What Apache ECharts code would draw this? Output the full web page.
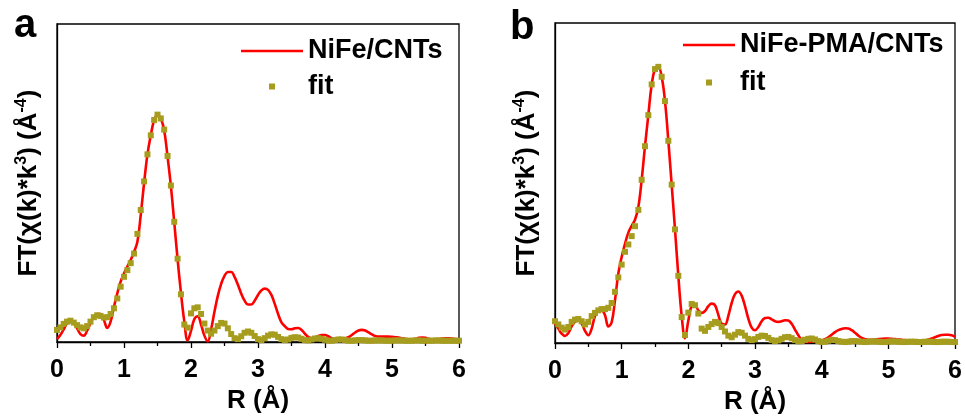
<!DOCTYPE html>
<html>
<head>
<meta charset="utf-8">
<script src="https://cdn.jsdelivr.net/npm/echarts@6/dist/echarts.min.js"></script>
<style>
  html, body { margin: 0; padding: 0; background: #fff; }
  #chart { width: 965px; height: 419px; }
</style>
</head>
<body>
<div id="chart"></div>
<script>
// R grid (Å) shared by all four curves
const R = [
  0.00, 0.05, 0.10, 0.15, 0.20, 0.25, 0.30, 0.35, 0.40, 0.45,
  0.50, 0.55, 0.60, 0.65, 0.70, 0.75, 0.80, 0.85, 0.90, 0.95,
  1.00, 1.05, 1.10, 1.15, 1.20, 1.25, 1.30, 1.35, 1.40, 1.45,
  1.50, 1.55, 1.60, 1.65, 1.70, 1.75, 1.80, 1.85, 1.90, 1.95,
  2.00, 2.05, 2.10, 2.15, 2.20, 2.25, 2.30, 2.35, 2.40, 2.45,
  2.50, 2.55, 2.60, 2.65, 2.70, 2.75, 2.80, 2.85, 2.90, 2.95,
  3.00, 3.05, 3.10, 3.15, 3.20, 3.25, 3.30, 3.35, 3.40, 3.45,
  3.50, 3.55, 3.60, 3.65, 3.70, 3.75, 3.80, 3.85, 3.90, 3.95,
  4.00, 4.05, 4.10, 4.15, 4.20, 4.25, 4.30, 4.35, 4.40, 4.45,
  4.50, 4.55, 4.60, 4.65, 4.70, 4.75, 4.80, 4.85, 4.90, 4.95,
  5.00, 5.05, 5.10, 5.15, 5.20, 5.25, 5.30, 5.35, 5.40, 5.45,
  5.50, 5.55, 5.60, 5.65, 5.70, 5.75, 5.80, 5.85, 5.90, 5.95,
  6.00
];

// Panel a: NiFe/CNTs, |FT| magnitude (arb. units)
const nifeData = [
  0.9, 2.2, 4.0, 5.9, 6.7, 5.9, 4.3, 2.5, 2.0, 3.6,
  5.9, 8.0, 8.8, 8.8, 6.9, 4.4, 6.4, 11.1, 15.3, 19.0,
  21.6, 23.7, 25.8, 28.4, 31.5, 40, 50, 59, 65, 69.8,
  71.4, 70.3, 66.5, 58.3, 49, 37.6, 26, 15.5, 6.5, 0.5,
  3.5, 7.2, 8.1, 5.5, 2.0, 0.2, 4.0, 9.5, 14.5, 18.3,
  20.8, 22.0, 22.0, 20.5, 18.0, 15.2, 13.0, 11.8, 11.8, 13.0,
  14.8, 16.2, 16.8, 16.4, 14.8, 12.0, 8.8, 6.2, 5.0, 4.1,
  4.0, 4.3, 4.4, 3.8, 2.6, 1.6, 1.2, 1.4, 1.9, 2.2,
  2.2, 1.8, 1.2, 0.8, 0.8, 1.0, 1.2, 1.5, 2.2, 3.0,
  3.6, 3.8, 3.6, 3.0, 2.4, 1.9, 1.7, 1.7, 1.7, 1.7,
  1.6, 1.5, 1.4, 1.2, 1.0, 0.8, 0.8, 1.0, 1.3, 1.4,
  1.3, 1.0, 0.8, 0.8, 0.9, 1.1, 1.2, 1.2, 1.1, 0.9,
  0.8
];
const nifeFit = [
  3.8, 4.6, 5.7, 6.4, 6.7, 6.1, 5.3, 4.6, 4.3, 5.0,
  6.4, 7.8, 8.4, 8.2, 7.7, 7.8, 8.8, 10.6, 13.7, 17.4,
  20.5, 22.6, 24.8, 27.8, 34, 41.5, 50.5, 59, 65, 69.8,
  71.5, 70.3, 66.8, 58.5, 49.2, 37.8, 26.2, 15, 5.5, 4.5,
  9.0, 10.6, 10.9, 8.8, 5.8, 3.6, 2.6, 3.6, 5.0, 6.0,
  5.8, 4.3, 2.5, 1.2, 0.9, 1.8, 2.9, 3.3, 2.9, 1.9,
  0.9, 0.6, 1.2, 2.0, 2.4, 2.3, 1.6, 0.9, 0.6, 0.8,
  1.3, 1.5, 1.4, 1.0, 0.6, 0.5, 0.8, 1.1, 1.2, 1.0,
  0.7, 0.4, 0.4, 0.6, 0.8, 0.8, 0.6, 0.4, 0.4, 0.5,
  0.6, 0.6, 0.5, 0.4, 0.4, 0.5, 0.5, 0.5, 0.4, 0.4,
  0.4, 0.5, 0.5, 0.5, 0.4, 0.4, 0.4, 0.5, 0.5, 0.4,
  0.4, 0.4, 0.4, 0.5, 0.5, 0.4, 0.4, 0.4, 0.4, 0.4,
  0.4
];

// Panel b: NiFe-PMA/CNTs
const pmaData = [
  6.1, 4.5, 2.9, 2.2, 3.1, 5.2, 6.6, 7.1, 6.1, 3.8,
  2.4, 4.5, 8.4, 10.0, 10.2, 8.7, 5.2, 6.5, 13.4, 21.7,
  26.9, 31, 34.5, 36.6, 38.5, 42.5, 51, 61.5, 71.2, 80.8,
  85.6, 86.3, 83.2, 75.6, 63.2, 49.5, 35.5, 21, 8.5, 1.5,
  7.0, 11.5, 11.8, 10.2, 9.4, 10.0, 11.5, 12.3, 11.8, 8.8,
  6.0, 5.8, 8.5, 12.5, 15.3, 16.1, 14.8, 11.5, 7.6, 4.8,
  4.0, 5.0, 6.8, 7.8, 7.9, 7.4, 6.8, 6.6, 6.8, 7.1,
  7.0, 6.0, 4.2, 2.4, 1.0, 0.3, 0.3, 0.4, 0.6, 0.6,
  0.8, 1.2, 1.8, 2.6, 3.4, 4.0, 4.4, 4.6, 4.5, 4.0,
  3.2, 2.3, 1.6, 1.2, 1.0, 1.0, 1.1, 1.2, 1.3, 1.4,
  1.4, 1.3, 1.2, 1.1, 1.0, 0.9, 0.8, 0.7, 0.6, 0.6,
  0.7, 0.8, 1.1, 1.4, 1.8, 2.2, 2.5, 2.6, 2.6, 2.4,
  1.9
];
const pmaFit = [
  6.8, 5.8, 4.8, 4.2, 5.0, 6.6, 7.3, 7.5, 6.8, 5.8,
  6.6, 8.4, 9.4, 10.2, 10.6, 10.6, 11.0, 12.5, 16.0, 20.5,
  24.5, 28.5, 30.8, 33.4, 36.5, 41.6, 51, 61.5, 71.2, 80.8,
  85.6, 86.3, 83.2, 75.6, 63.2, 49.5, 35.5, 21.0, 8.1, 2.5,
  9.5, 12.2, 11.8, 9.2, 4.5, 3.8, 5.0, 5.9, 6.6, 6.2,
  5.0, 3.6, 2.3, 1.8, 2.6, 3.4, 3.2, 2.3, 1.3, 0.9,
  1.2, 1.9, 2.3, 2.2, 1.6, 0.9, 0.6, 0.8, 1.3, 1.8,
  1.9, 1.5, 0.9, 0.5, 0.6, 1.0, 1.3, 1.4, 1.1, 0.6,
  0.3, 0.4, 0.7, 1.0, 0.9, 0.6, 0.4, 0.3, 0.4, 0.6,
  0.6, 0.5, 0.4, 0.3, 0.4, 0.5, 0.5, 0.4, 0.3, 0.3,
  0.4, 0.5, 0.5, 0.4, 0.3, 0.3, 0.4, 0.4, 0.4, 0.3,
  0.3, 0.4, 0.4, 0.4, 0.3, 0.3, 0.4, 0.4, 0.4, 0.3,
  0.3
];

const xTicks = ['0', '1', '2', '3', '4', '5', '6'];
const panelLabels = ['a', 'b'];
const sampleNames = ['NiFe/CNTs', 'NiFe-PMA/CNTs'];
const fitName = 'fit';

const FONT = 'Liberation Sans, Arial, sans-serif';
const RED = '#FF0000';
const OLIVE = '#A69D1E';

const pairs = (ys) => ys.map((y, i) => [R[i], y]);

function makeXAxis(gi) {
  return {
    type: 'value', gridIndex: gi, min: 0, max: 6, interval: 1,
    axisLine: { show: true, onZero: false, lineStyle: { color: '#000', width: 1.3 } },
    axisTick: { show: true, inside: false, length: 6, lineStyle: { color: '#000', width: 1.3 } },
    minorTick: { show: true, splitNumber: 2, length: 4, lineStyle: { color: '#000', width: 1.3 } },
    splitLine: { show: false },
    axisLabel: {
      color: '#000', fontSize: 25, fontWeight: 'bold', fontFamily: FONT, margin: 16,
      formatter: (v) => xTicks[Math.round(v)]
    },
    name: 'R (Å)', nameLocation: 'middle', nameGap: 46,
    nameTextStyle: { color: '#000', fontSize: 26, fontWeight: 'bold', fontFamily: FONT }
  };
}

function makeYAxis(gi) {
  return {
    type: 'value', gridIndex: gi, min: 0, max: 100,
    axisLine: { show: true, lineStyle: { color: '#000', width: 1.3 } },
    axisTick: { show: false },
    axisLabel: { show: false },
    splitLine: { show: false },
    name: 'FT(χ(k)*k{sup|3}) (Å{sup|-4})',
    nameLocation: 'middle', nameGap: 13, nameRotate: 90,
    nameTextStyle: {
      color: '#000', fontSize: 26, fontWeight: 'bold', fontFamily: FONT, lineHeight: 30,
      rich: {
        sup: { color: '#000', fontSize: 16, fontWeight: 'bold', fontFamily: FONT,
               lineHeight: 17, verticalAlign: 'top' }
      }
    }
  };
}

// legend icons: a plain stroke for the measured curve, a small square for the fit
function makeLegend(gi, left, top, itemWidth, gap) {
  return {
    data: [
      { name: sampleNames[gi], icon: 'path://M0,0L' + itemWidth + ',0L' + itemWidth + ',2.5L0,2.5Z' },
      { name: fitName, icon: 'path://M0,0L6,0L6,6L0,6Z' }
    ],
    orient: 'vertical', left: left, top: top, padding: 0,
    itemWidth: itemWidth, itemHeight: 6, itemGap: gap,
    symbolKeepAspect: true,
    selectedMode: false,
    textStyle: { color: '#000', fontSize: 27, fontWeight: 'bold', fontFamily: FONT, lineHeight: 26 }
  };
}

function lineSeries(gi, name, ys) {
  return {
    type: 'line', name: name, xAxisIndex: gi, yAxisIndex: gi,
    data: pairs(ys), smooth: 0.4, symbol: 'none', showSymbol: false,
    lineStyle: { color: RED, width: 2.6 }, itemStyle: { color: RED }, z: 2
  };
}

function fitSeries(gi, ys) {
  return {
    type: 'scatter', name: fitName, xAxisIndex: gi, yAxisIndex: gi,
    data: pairs(ys), symbol: 'rect', symbolSize: 6,
    itemStyle: { color: OLIVE, opacity: 1 }, z: 3, clip: false
  };
}

const chart = echarts.init(document.getElementById('chart'), null, { renderer: 'canvas' });
chart.setOption({
  animation: false,
  backgroundColor: '#fff',
  title: [
    { text: panelLabels[0], left: 14, top: 6, padding: 0,
      textStyle: { color: '#000', fontSize: 40, fontWeight: 'bold', fontFamily: FONT } },
    { text: panelLabels[1], left: 510, top: 8, padding: 0,
      textStyle: { color: '#000', fontSize: 40, fontWeight: 'bold', fontFamily: FONT } }
  ],
  legend: [
    makeLegend(0, 241, 37.5, 62, 8.5),
    makeLegend(1, 683, 31.5, 52, 10.5)
  ],
  grid: [
    { left: 57, top: 24, width: 402, height: 318, show: true, borderColor: '#000', borderWidth: 1.3,
      containLabel: false, outerBoundsMode: 'none' },
    { left: 555, top: 23, width: 400, height: 320, show: true, borderColor: '#000', borderWidth: 1.3,
      containLabel: false, outerBoundsMode: 'none' }
  ],
  xAxis: [makeXAxis(0), makeXAxis(1)],
  yAxis: [makeYAxis(0), makeYAxis(1)],
  series: [
    lineSeries(0, sampleNames[0], nifeData),
    fitSeries(0, nifeFit),
    lineSeries(1, sampleNames[1], pmaData),
    fitSeries(1, pmaFit)
  ]
});
</script>
</body>
</html>
